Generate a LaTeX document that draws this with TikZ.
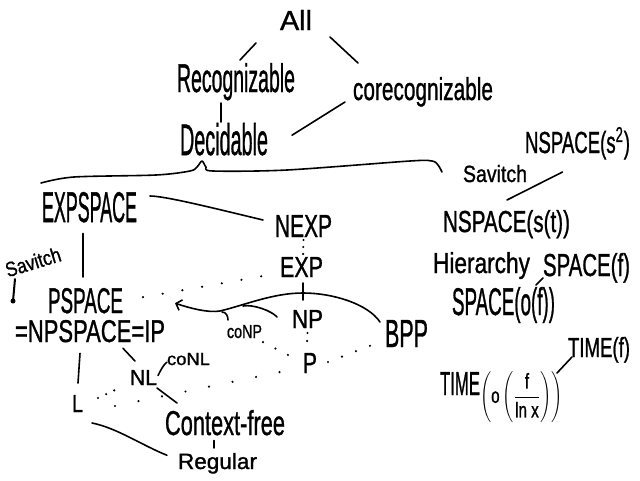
\documentclass[tikz,border=0pt]{standalone}
\usepackage{fontspec}
\setmainfont[FakeBold=1.2]{Liberation Sans}
\usetikzlibrary{arrows.meta,calc}
\newcommand{\hw}[3]{\resizebox{#1pt}{#2pt}{#3}}
\begin{document}
\begin{tikzpicture}[x=1pt,y=-1pt,
  lbl/.style={inner sep=0pt,outer sep=0pt,anchor=base west},
  ln/.style={line width=1.6pt,line cap=round,line join=round},
  dots/.style={line width=2.4pt,line cap=round,dash pattern=on 0pt off #1pt},
  dots/.default=18]
\fill[white] (0,0) rectangle (640,480);
\useasboundingbox (0,0) rectangle (640,480);

% nodes
\node[lbl] (all) at (280,30) {\hw{32}{20}{All}};
\node[lbl] (rec) at (177,92) {\hw{118}{29}{Recognizable}};
\node[lbl] (corec) at (353,100) {\hw{140}{23}{corecognizable}};
\node[lbl] (dec) at (180,155) {\hw{88}{32}{Decidable}};
\node[lbl] (expspace) at (42,222) {\hw{95}{30}{EXPSPACE}};
\node[lbl] (nexp) at (275,237) {\hw{57}{22}{NEXP}};
\node[lbl] (exp) at (280,277) {\hw{43}{20}{EXP}};
\node[lbl] (pspace) at (48,313) {\hw{75}{25}{PSPACE}};
\node[lbl] (npspace) at (15,342) {\hw{150}{22}{=NPSPACE=IP}};
\node[lbl] (np) at (292,328) {\hw{31}{18}{NP}};
\node[lbl] (p) at (303,373) {\hw{14}{20}{P}};
\node[lbl] (conp) at (227,338) {\hw{35}{13}{coNP}};
\node[lbl] (bpp) at (385,347) {\hw{43}{27}{BPP}};
\node[lbl] (nl) at (130,385) {\hw{27}{15}{NL}};
\node[lbl] (conl) at (167,365) {\hw{43}{12}{coNL}};
\node[lbl] (l) at (72,412) {\hw{11}{17}{L}};
\node[lbl] (cf) at (165,435) {\hw{120}{25}{Context-free}};
\node[lbl] (reg) at (178,469) {\hw{79}{16}{Regular}};
\node[lbl] (savr) at (463,182) {\hw{64}{17}{Savitch}};
\node[lbl] (nspsq) at (525,153) {\hw{105}{26}{NSPACE(s\textsuperscript{2})}};
\node[lbl] (nspst) at (443,232) {\hw{127}{22}{NSPACE(s(t))}};
\node[lbl] (hier) at (433,273) {\hw{97}{21}{Hierarchy}};
\node[lbl] (spacef) at (543,276) {\hw{87}{23}{SPACE(f)}};
\node[lbl] (spaceof) at (452,315) {\hw{103}{28}{SPACE(o(f))}};
\node[lbl] (timef) at (568,357) {\hw{62}{20}{TIME(f)}};
\node[lbl] (timeo) at (440,395) {\hw{40}{23}{TIME}\raisebox{-28pt}{\resizebox*{83pt}{51pt}{\raisebox{\depth}{$\left(\mbox{o}\left(\displaystyle\frac{\mbox{f}}{\mbox{ln x}}\right)\right)$}}}};
\node[inner sep=0pt,rotate=17] (savl) at (33,262) {\hw{57}{15}{Savitch}};
\coordinate (savtail) at (15,279);
\coordinate (savtip) at (13,301);

% connectors
\draw[ln] ($(all.south west)+(-24,13)$) -- ($(rec.north)+(4,-3)$);
\draw[ln] ($(all.south east)+(18,7)$) -- ($(corec.north west)+(5,-14)$);
\draw[ln] ($(rec.base)+(-15,11)$) -- ($(dec.north)+(-3,-1)$);
\draw[ln] ($(corec.base west)+(-8,2)$) -- ($(dec.east)+(24,-4)$);
\draw[ln,shift={(dec.base)}] plot[smooth,tension=0.5] coordinates {(-183,28) (-150,22) (-68,20) (-34,16) (-27,12) (-22,6) (-18,12) (-11,16) (63,15) (186,6) (208,6) (214,10) (218,17)};
\draw[ln] ($(expspace.north east)+(13,4)$) .. controls +(15,0) and +(-50,-12) .. ($(nexp.west)+(-12,-6)$);
\draw[dots=7] ($(nexp.south)+(0,3)$) -- ($(exp.north)+(1.5,-1)$);
\draw[ln] ($(expspace.south)+(-6.5,11)$) -- ($(pspace.north)+(-2.5,-11)$);
\draw[dots=20] ($(pspace.east)+(20,-3.5)$) -- ($(exp.west)+(-17,9)$);
\draw[ln] ($(exp.south)+(1.5,6)$) -- ($(np.north)+(-4.5,-10)$);
\draw[dots=8] ($(np.south)+(0,5)$) -- ($(p.north)+(-3,-8)$);
\draw[ln,-{Straight Barb[length=5pt,width=11pt]}] ($(bpp.north west)+(-5,2)$)
  .. controls +(-12,-18) and +(30,0) .. ($(np.north)+(-4.5,-17)$)
  .. controls +(-30,0) and +(25,-6) .. ($(conp.north west)+(-7,-14)$)
  .. controls +(-12,2) and +(15,5) .. ($(pspace.east)+(52,2.5)$);
\draw[ln] ($(np.west)+(-49,-13)$) .. controls +(10,-2) and +(-5,-6) .. ($(np.west)+(-15,-2)$);
\draw[ln] ($(conp.north west)+(-5,-13)$) .. controls +(4,0) and +(0,-4) .. ($(conp.north west)+(1,-5)$);
\draw[dots=15] ($(p.east)+(11,-1)$) -- ($(bpp.south west)+(-13,-2)$);
\draw[dots=14] ($(conp.south east)+(1,4)$) -- ($(p.west)+(-11,-6)$);
\draw[dots=9] ($(l.east)+(15,-5.5)$) -- ($(nl.south west)+(-15,5)$);
\draw[dots=24] ($(l.east)+(32,2.5)$) -- ($(p.south west)+(-23,-1)$);
\draw[ln] ($(npspace.south east)+(-42,6)$) -- ($(nl.north west)+(5,-9)$);
\draw[ln] ($(nl.east)+(1,-2)$) .. controls +(3,-6) and +(-3,2) .. ($(conl.west)+(0,3)$);
\draw[ln] ($(nl.south east)+(0,3)$) -- ($(cf.north west)+(12,-7)$);
\draw[ln] ($(npspace.south west)+(65,11)$) -- ($(l.north)+(0.5,-12)$);
\draw[ln] ($(l.south east)+(9,11)$) .. controls +(25,5) and +(-25,-10) .. ($(reg.west)+(-11,-8)$);
\draw[ln] ($(cf.south)+(-11,5)$) -- ($(reg.north)+(-3.5,-5)$);
\draw[ln] ($(nspst.north)+(0.5,-10)$) -- ($(nspsq.base)+(-15,19)$);
\draw[ln] ($(spacef.base west)+(-7,9)$) -- ($(spacef.base west)+(0,2)$);
\draw[ln] ($(timef.base west)+(-11,16)$) -- ($(timef.base west)+(4,0)$);
\draw[line width=2pt,line cap=round] (savtail) -- (savtip);
\fill (savtip) circle[radius=2.5pt];
\end{tikzpicture}
\end{document}
